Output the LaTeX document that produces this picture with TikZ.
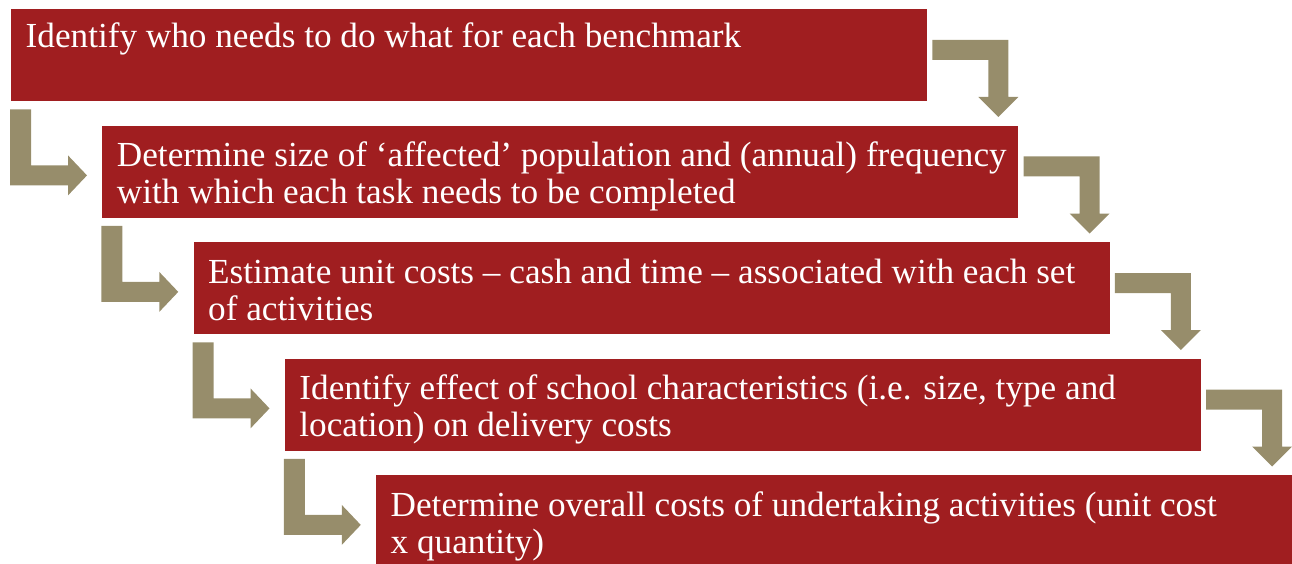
\documentclass[tikz,border=0pt]{standalone}
\usepackage{fontspec}
\setmainfont{Liberation Serif}
\definecolor{boxred}{RGB}{160,30,32}
\definecolor{arrowkhaki}{RGB}{151,141,107}
\tikzset{
  stepbox/.style={rectangle, fill=boxred, draw=none, minimum width=916pt, minimum height=92pt, inner sep=0pt, anchor=north west},
  steptext/.style={anchor=base west, inner sep=0pt, align=left, text=white, font=\fontsize{35.2}{37}\selectfont},
  pics/bentdown/.style={code={
    \fill[arrowkhaki] (5,31) -- (81,31) -- (81,88) -- (91,88) -- (71,108) -- (51,88) -- (61,88) -- (61,51) -- (5,51) -- cycle;
  }},
  pics/bentright/.style={code={
    \fill[arrowkhaki] (-1,8) -- (20,8) -- (20,64) -- (57,64) -- (57,54) -- (76,74) -- (57,94) -- (57,84) -- (-1,84) -- cycle;
  }}
}
\begin{document}
\begin{tikzpicture}[x=1pt,y=-1pt]
\useasboundingbox (0,0) rectangle (1292,564);
\node[stepbox] (b1) at (11,9) {};
\node[stepbox] (b2) at (102.25,125.5) {};
\node[stepbox] (b3) at (193.5,242) {};
\node[stepbox] (b4) at (284.75,358.5) {};
\node[stepbox] (b5) at (376,475) {};
% base anchor of a two-line node is the baseline of its last line
\node[steptext] (t1) at ([shift={(14.5,39)}]b1.north west) {Identify who needs to do what for each benchmark};
\node[steptext] (t2) at ([shift={(14.5,78)}]b2.north west) {Determine size of ‘affected’ population and (annual) frequency\\with which each task needs to be completed};
\node[steptext] (t3) at ([shift={(14.5,78)}]b3.north west) {Estimate unit costs – cash and time – associated with each set\\of activities};
\node[steptext] (t4) at ([shift={(14.5,78)}]b4.north west) {Identify effect of school characteristics (i.e. size, type and\\location) on delivery costs};
\node[steptext] (t5) at ([shift={(14.5,78)}]b5.north west) {Determine overall costs of undertaking activities (unit cost\\x quantity)};
\pic at (b1.north east) {bentdown};
\pic at (b2.north east) {bentdown};
\pic at (b3.north east) {bentdown};
\pic at (b4.north east) {bentdown};
\pic at (b1.south west) {bentright};
\pic at (b2.south west) {bentright};
\pic at (b3.south west) {bentright};
\pic at (b4.south west) {bentright};
\end{tikzpicture}
\end{document}
